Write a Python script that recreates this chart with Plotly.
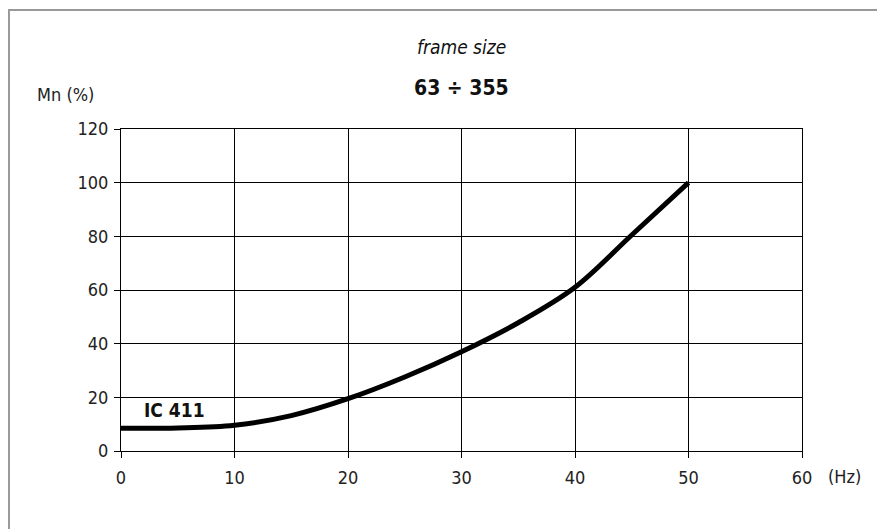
import plotly.graph_objs as go

# curve
freq_hz = [0, 5, 10, 15, 20, 25, 30, 35, 40, 45, 50]
torque_pct = [8.5, 8.6, 9.6, 13.2, 19.5, 27.6, 37, 47.8, 61, 80.5, 100]

x_ticks = [0, 10, 20, 30, 40, 50, 60]
y_ticks = [0, 20, 40, 60, 80, 100, 120]

FONT = "DejaVu Sans Condensed, Liberation Sans Narrow, Arial Narrow, sans-serif"

fig = go.Figure()
fig.add_trace(go.Scatter(x=freq_hz, y=torque_pct, mode='lines',
                         line=dict(color='black', width=5, shape='spline', smoothing=1.0),
                         showlegend=False, hoverinfo='skip'))

fig.update_layout(
    width=885,
    height=529,
    plot_bgcolor='white',
    paper_bgcolor='white',
    font=dict(family=FONT, size=18, color='#222'),
    margin=dict(autoexpand=False, l=113, r=91, t=121, b=86),
)

fig.update_xaxes(range=[0, 60], tickvals=x_ticks, showgrid=True, gridcolor='black', gridwidth=1,
                 showline=True, linecolor='black', linewidth=1, mirror=True,
                 ticks='outside', ticklen=6, tickcolor='black', zeroline=False,
                 ticklabelstandoff=4, tickfont=dict(size=18, color='#222'))
fig.update_yaxes(range=[0, 120], tickvals=y_ticks, showgrid=True, gridcolor='black', gridwidth=1,
                 showline=True, linecolor='black', linewidth=1, mirror=True,
                 ticks='outside', ticklen=6, tickcolor='black', zeroline=False,
                 ticklabelstandoff=2, tickfont=dict(size=18, color='#222'))

# outer grey frame
fig.add_shape(type='rect', xref='paper', yref='paper',
              x0=-0.1645, x1=1.1175, y0=-0.35, y1=1.3696,
              line=dict(color='#999999', width=2), layer='below')

fig.add_annotation(x=0.5007, y=1.2547, xref='paper', yref='paper', showarrow=False,
                   xanchor='center', yanchor='middle',
                   text='<i>frame size</i>', font=dict(size=19, color='#111'))
fig.add_annotation(x=0.5007, y=1.127, xref='paper', yref='paper', showarrow=False,
                   xanchor='center', yanchor='middle',
                   text='<b>63 ÷ 355</b>', font=dict(size=21, color='#111'))
fig.add_annotation(x=-0.082, y=1.106, xref='paper', yref='paper', showarrow=False,
                   xanchor='center', yanchor='middle',
                   text='Mn (%)', font=dict(size=18, color='#222'))
fig.add_annotation(x=1.063, y=-0.078, xref='paper', yref='paper', showarrow=False,
                   xanchor='center', yanchor='middle',
                   text='(Hz)', font=dict(size=18, color='#222'))
fig.add_annotation(x=4.75, y=15.3, xref='x', yref='y', showarrow=False,
                   xanchor='center', yanchor='middle',
                   text='<b>IC 411</b>', font=dict(size=19, color='#111'))

fig.write_html("out.html")
